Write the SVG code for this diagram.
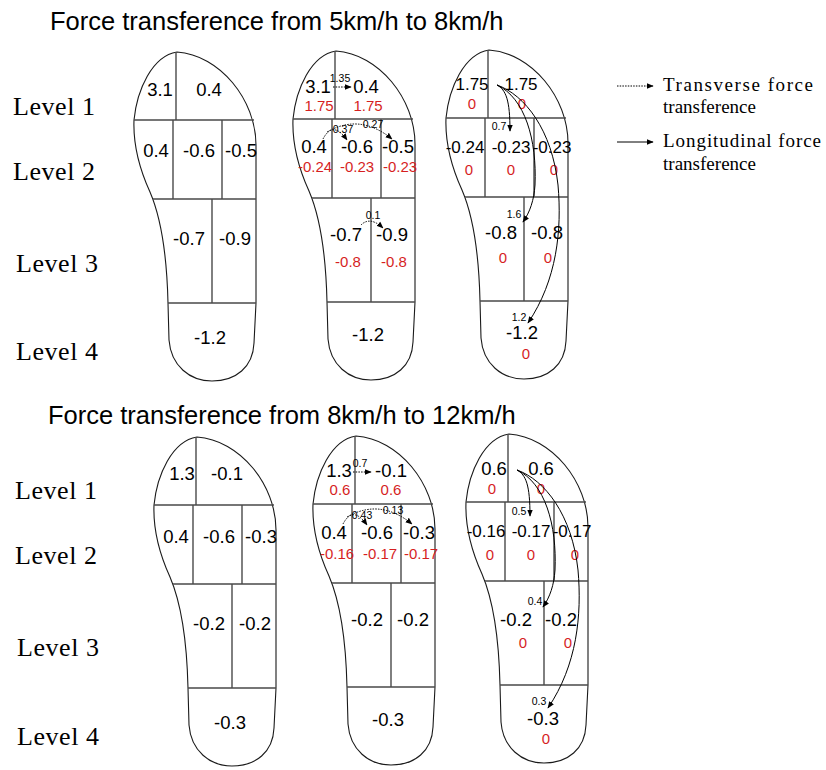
<svg xmlns="http://www.w3.org/2000/svg" xmlns:xlink="http://www.w3.org/1999/xlink" width="826" height="770" viewBox="0 0 826 770">
<style>
.ol{fill:none;stroke:#1a1a1a;stroke-width:1.1}
.gr{fill:none;stroke:#4a4a4a;stroke-width:1.4}
.n{font-family:"Liberation Sans",Arial,sans-serif;font-size:18.5px;fill:#000;text-anchor:middle}
.w{font-size:17px}
.r{font-family:"Liberation Sans",Arial,sans-serif;font-size:15px;fill:#d61f1f;text-anchor:middle}
.s{font-family:"Liberation Sans",Arial,sans-serif;font-size:10.5px;fill:#000;text-anchor:middle}
.ttl{font-family:"Liberation Sans",Arial,sans-serif;font-size:25.5px;fill:#000}
.lvl{font-family:"Liberation Serif","Times New Roman",serif;font-size:26px;fill:#000}
.lg{font-family:"Liberation Serif","Times New Roman",serif;font-size:19px;fill:#000}
.dt{fill:none;stroke:#000;stroke-width:1;stroke-dasharray:1.5 1.2;marker-end:url(#ah)}
.sl{fill:none;stroke:#000;stroke-width:1;marker-end:url(#ah)}
</style>
<defs>
<marker id="ah" viewBox="0 0 10 10" refX="9" refY="5" markerWidth="7" markerHeight="7" markerUnits="userSpaceOnUse" orient="auto"><path d="M0,1 L10,5 L0,9 Z" fill="#000"/></marker>
<path id="outline" d="M177,52 C152,56 137,90 134,120 C133,145 140,170 150,192 C162,220 167,260 168,303 L169,340 C171,366 190,381 212,381 C236,381 253,367 254,343 L256,303 L256,145 C256,100 220,55 177,52 Z"/>
<path id="grid" d="M134,120 H254 M176,52 V120 M173,120 V199 M222,120 V199 M153,199 H256 M212,199 V303 M168,303 H256"/>
</defs>
<rect width="826" height="770" fill="#fff"/>

<g id="titles">
<text class="ttl" x="50" y="30">Force transference from 5km/h to 8km/h</text>
<text class="ttl" x="48" y="424">Force transference from 8km/h to 12km/h</text>
</g>

<g id="levels">
<text class="lvl" x="13" y="115" textLength="82">Level 1</text>
<text class="lvl" x="13" y="180" textLength="82">Level 2</text>
<text class="lvl" x="16" y="272" textLength="82">Level 3</text>
<text class="lvl" x="16" y="360" textLength="82">Level 4</text>
<text class="lvl" x="15" y="499" textLength="82">Level 1</text>
<text class="lvl" x="15" y="564" textLength="82">Level 2</text>
<text class="lvl" x="17" y="656" textLength="82">Level 3</text>
<text class="lvl" x="17" y="745" textLength="82">Level 4</text>
</g>

<g id="legend">
<path class="dt" d="M617,86 H653"/>
<text class="lg" x="663" y="91" textLength="150">Transverse force</text>
<text class="lg" x="663" y="113" textLength="93">transference</text>
<path class="sl" d="M617,142 H653"/>
<text class="lg" x="663" y="147" textLength="158">Longitudinal force</text>
<text class="lg" x="663" y="170" textLength="93">transference</text>
</g>

<g id="sole-a1">
<use xlink:href="#outline" class="ol"/>
<use xlink:href="#grid" class="gr"/>
<text class="n" x="160" y="96">3.1</text>
<text class="n" x="209" y="96">0.4</text>
<text class="n" x="156" y="157">0.4</text>
<text class="n" x="199" y="157">-0.6</text>
<text class="n" x="241" y="157">-0.5</text>
<text class="n" x="189" y="245">-0.7</text>
<text class="n" x="235" y="245">-0.9</text>
<text class="n" x="210" y="344">-1.2</text>
</g>

<g id="sole-a2">
<use xlink:href="#outline" class="ol" transform="translate(159,-1)"/>
<use xlink:href="#grid" class="gr" transform="translate(159,-1)"/>
<text class="n" x="318" y="93">3.1</text>
<text class="n" x="366" y="93">0.4</text>
<text class="n" x="314" y="153">0.4</text>
<text class="n" x="357" y="153">-0.6</text>
<text class="n" x="398" y="153">-0.5</text>
<text class="n" x="346" y="241">-0.7</text>
<text class="n" x="392" y="241">-0.9</text>
<text class="n" x="368" y="341">-1.2</text>
<text class="r" x="319" y="111">1.75</text>
<text class="r" x="368" y="111">1.75</text>
<text class="r" x="315" y="172">-0.24</text>
<text class="r" x="357" y="172">-0.23</text>
<text class="r" x="400" y="172">-0.23</text>
<text class="r" x="348" y="267">-0.8</text>
<text class="r" x="394" y="267">-0.8</text>
<text class="s" x="340" y="82">1.35</text>
<text class="s" x="343" y="133">0.37</text>
<text class="s" x="373" y="128">0.27</text>
<text class="s" x="373" y="219">0.1</text>
</g>

<g id="sole-a3">
<use xlink:href="#outline" class="ol" transform="translate(312,-2)"/>
<use xlink:href="#grid" class="gr" transform="translate(312,-2)"/>
<text class="n w" x="472" y="90">1.75</text>
<text class="n w" x="521" y="90">1.75</text>
<text class="n w" x="465" y="153">-0.24</text>
<text class="n w" x="511" y="153">-0.23</text>
<text class="n w" x="552" y="153">-0.23</text>
<text class="n" x="501" y="239">-0.8</text>
<text class="n" x="547" y="239">-0.8</text>
<text class="n" x="522" y="339">-1.2</text>
<text class="r" x="472" y="109">0</text>
<text class="r" x="522" y="109">0</text>
<text class="r" x="469" y="175">0</text>
<text class="r" x="511" y="175">0</text>
<text class="r" x="554" y="175">0</text>
<text class="r" x="503" y="263">0</text>
<text class="r" x="548" y="263">0</text>
<text class="r" x="526" y="359">0</text>
<text class="s" x="499" y="130">0.7</text>
<text class="s" x="514" y="218">1.6</text>
<text class="s" x="519" y="321">1.2</text>
</g>

<g id="sole-b1">
<use xlink:href="#outline" class="ol" transform="translate(20,385)"/>
<use xlink:href="#grid" class="gr" transform="translate(20,385)"/>
<text class="n" x="182" y="480">1.3</text>
<text class="n" x="227" y="480">-0.1</text>
<text class="n" x="176" y="543">0.4</text>
<text class="n" x="219" y="543">-0.6</text>
<text class="n" x="261" y="543">-0.3</text>
<text class="n" x="209" y="630">-0.2</text>
<text class="n" x="255" y="630">-0.2</text>
<text class="n" x="230" y="729">-0.3</text>
</g>

<g id="sole-b2">
<use xlink:href="#outline" class="ol" transform="translate(179,384)"/>
<use xlink:href="#grid" class="gr" transform="translate(179,384)"/>
<text class="n" x="339" y="477">1.3</text>
<text class="n" x="391" y="477">-0.1</text>
<text class="n" x="334" y="539">0.4</text>
<text class="n" x="377" y="539">-0.6</text>
<text class="n" x="419" y="539">-0.3</text>
<text class="n" x="367" y="626">-0.2</text>
<text class="n" x="413" y="626">-0.2</text>
<text class="n" x="388" y="726">-0.3</text>
<text class="r" x="340" y="495">0.6</text>
<text class="r" x="391" y="495">0.6</text>
<text class="r" x="337" y="559">-0.16</text>
<text class="r" x="380" y="559">-0.17</text>
<text class="r" x="421" y="559">-0.17</text>
<text class="s" x="360" y="467">0.7</text>
<text class="s" x="362" y="519">0.43</text>
<text class="s" x="393" y="514">0.13</text>
</g>

<g id="sole-b3">
<use xlink:href="#outline" class="ol" transform="translate(332,382)"/>
<use xlink:href="#grid" class="gr" transform="translate(332,382)"/>
<text class="n" x="494" y="475">0.6</text>
<text class="n" x="541" y="475">0.6</text>
<text class="n w" x="486" y="537">-0.16</text>
<text class="n w" x="531" y="537">-0.17</text>
<text class="n w" x="572" y="537">-0.17</text>
<text class="n" x="516" y="626">-0.2</text>
<text class="n" x="561" y="626">-0.2</text>
<text class="n" x="543" y="725">-0.3</text>
<text class="r" x="492" y="494">0</text>
<text class="r" x="541" y="494">0</text>
<text class="r" x="490" y="560">0</text>
<text class="r" x="531" y="560">0</text>
<text class="r" x="575" y="560">0</text>
<text class="r" x="523" y="648">0</text>
<text class="r" x="568" y="648">0</text>
<text class="r" x="546" y="744">0</text>
<text class="s" x="519" y="515">0.5</text>
<text class="s" x="535" y="605">0.4</text>
<text class="s" x="539" y="705">0.3</text>
</g>

<g id="connectors">
<path class="dt" d="M333,87 H351"/>
<path class="dt" d="M323,139 Q333,120 347,140"/>
<path class="dt" d="M327,132 Q360,113 392,139"/>
<path class="dt" d="M361,225 Q370,216 383,228"/>
<path class="sl" d="M497,85 C506,90 510,100 510,131"/>
<path class="sl" d="M497,85 C525,98 537,140 535,185 C534,200 530,212 523,222"/>
<path class="sl" d="M497,85 C525,95 552,130 558,185 C562,230 557,280 528,323"/>
<path class="dt" d="M353,472 H371"/>
<path class="dt" d="M343,524 Q353,505 367,525"/>
<path class="dt" d="M347,517 Q380,498 412,524"/>
<path class="sl" d="M517,470 C526,475 530,485 530,516"/>
<path class="sl" d="M517,470 C545,483 557,525 555,570 C554,585 550,597 543,607"/>
<path class="sl" d="M517,470 C545,480 572,515 578,570 C582,615 577,665 548,708"/>
</g>
</svg>
